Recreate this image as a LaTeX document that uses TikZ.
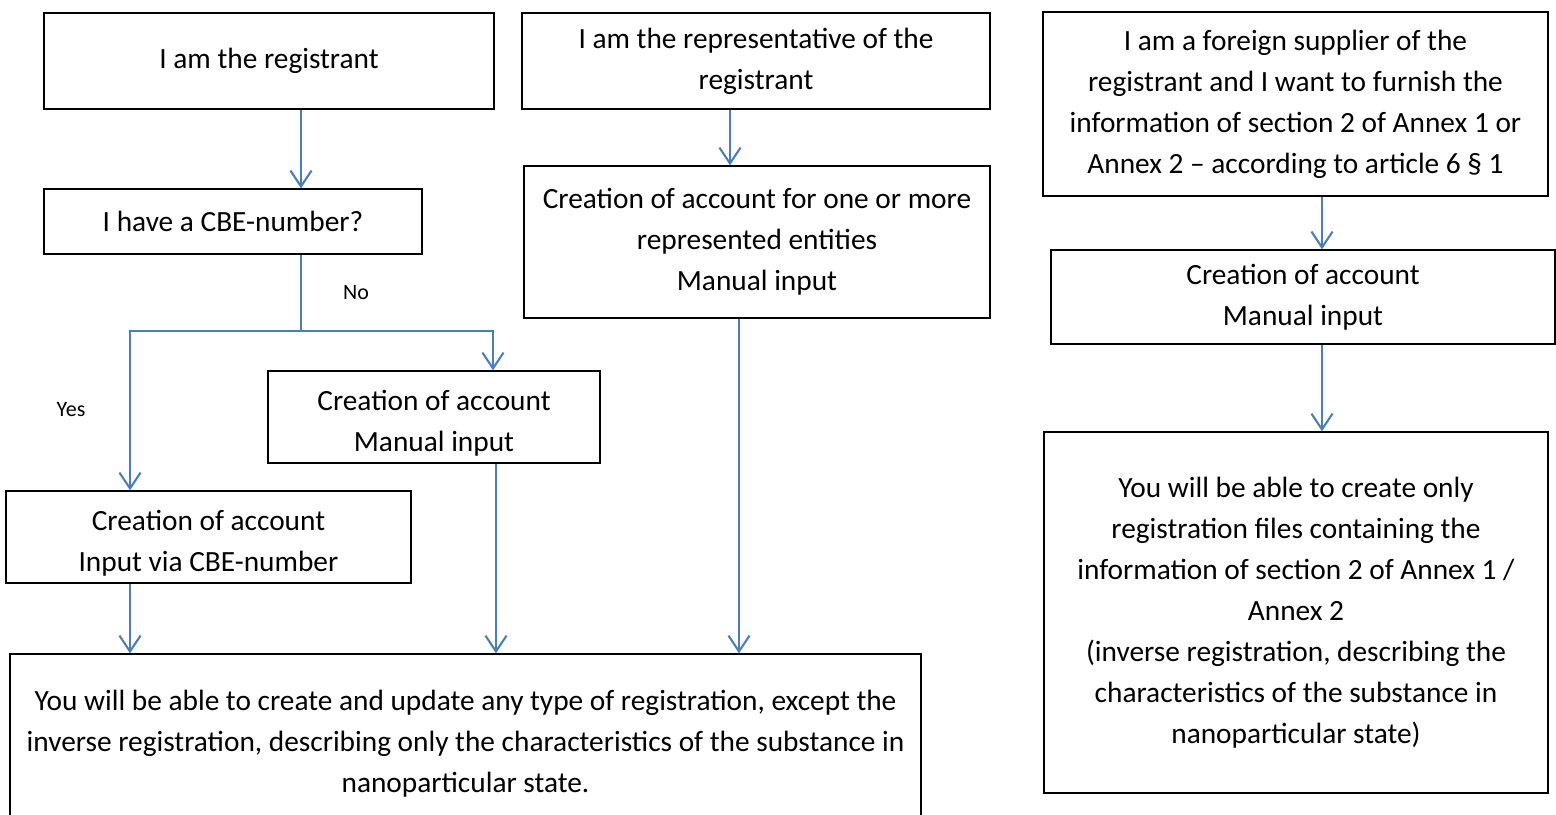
\documentclass[tikz,border=0pt]{standalone}
\usepackage{fontspec}
\setmainfont{Carlito}
\usetikzlibrary{arrows.meta}
\definecolor{flowblue}{RGB}{74,126,187}
\newcommand{\lowstrut}{\rule{0pt}{18.5pt}}

\begin{document}
\begin{tikzpicture}[x=0.02cm, y=-0.02cm,
		box/.style={draw=black, line width=0.8pt, align=center, inner sep=0pt,
			font=\fontsize{16.7}{23.3}\selectfont},
		link/.style={draw=flowblue, line width=1.2pt},
		flow/.style={link, -{Straight Barb[length=9pt,width=12pt]}},
		tag/.style={font=\fontsize{12.5}{15}\selectfont}]
		%%%%% START %%%%%
		\useasboundingbox (0, 0) rectangle (1556, 815);
		\clip (0, 0) rectangle (1556, 815);
		
		% registrant column
		\node[box, minimum width=9cm, minimum height=1.92cm] (registrant) at (269, 61) {I am the registrant};
		\node[box, minimum width=7.56cm, minimum height=1.3cm] (cbe) at (233, 221.5) {I have a CBE-number?};
		\node[box, minimum width=6.64cm, minimum height=1.84cm] (manual) at (434, 417) {\lowstrut Creation of account\\Manual input};
		\node[box, minimum width=8.1cm, minimum height=1.84cm] (viacbe) at (208.5, 537) {\lowstrut Creation of account\\Input via CBE-number};
		\node[box, minimum width=18.22cm, minimum height=3.6cm] (anytype) at (465.5, 744) {You will be able to create and update any type of registration, except the\\inverse registration, describing only the characteristics of the substance in\\nanoparticular state.};
		
		% representative column
		\node[box, minimum width=9.36cm, minimum height=1.92cm] (representative) at (756, 61) {I am the representative of the\\registrant};
		\node[box, minimum width=9.32cm, minimum height=3.04cm] (entities) at (757, 242) {Creation of account for one or more\\represented entities\\Manual input};
		
		% foreign supplier column
		\node[box, minimum width=10.1cm, minimum height=3.68cm] (supplier) at (1295.5, 104) {I am a foreign supplier of the\\registrant and I want to furnish the\\information of section 2 of Annex 1 or\\Annex 2 -- according to article 6 \S{} 1};
		\node[box, minimum width=10.08cm, minimum height=1.88cm] (suppacc) at (1303, 297) {Creation of account\\Manual input};
		\node[box, minimum width=10.08cm, minimum height=7.22cm] (inverse) at (1296, 612.5) {You will be able to create only\\registration files containing the\\information of section 2 of Annex 1 /\\Annex 2\\(inverse registration, describing the\\characteristics of the substance in\\nanoparticular state)};
		
		\node[tag] (no) at (356, 293) {No};
		\node[tag] (yes) at (71, 410) {Yes};
		
		% x positions of the connectors
		\coordinate (xa) at (301, 0);
		\coordinate (xyes) at (130, 0);
		\coordinate (xno) at (493, 0);
		\coordinate (xman) at (496, 0);
		\coordinate (xrep) at (730, 0);
		\coordinate (xent) at (739, 0);
		\coordinate (xsup) at (1322, 0);
		\coordinate (split) at (301, 331);
		
		\draw[flow] (registrant.south -| xa) -- (cbe.north -| xa);
		\draw[link] (cbe.south -| xa) -- (split);
		\draw[flow] (split) -| (viacbe.north -| xyes);
		\draw[flow] (split) -| (manual.north -| xno);
		
		\draw[flow] (viacbe.south -| xyes) -- (anytype.north -| xyes);
		\draw[flow] (manual.south -| xman) -- (anytype.north -| xman);
		
		\draw[flow] (representative.south -| xrep) -- (entities.north -| xrep);
		\draw[flow] (entities.south -| xent) -- (anytype.north -| xent);
		
		\draw[flow] (supplier.south -| xsup) -- (suppacc.north -| xsup);
		\draw[flow] (suppacc.south -| xsup) -- (inverse.north -| xsup);
		
		%%%%% END %%%%%
	\end{tikzpicture}
\end{document}
